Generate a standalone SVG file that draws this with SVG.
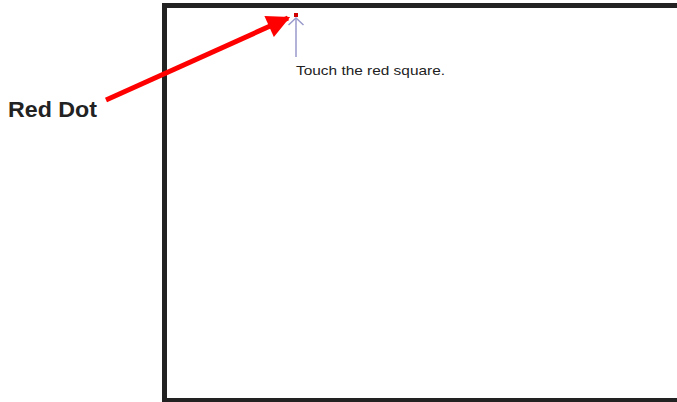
<svg xmlns="http://www.w3.org/2000/svg" width="677" height="402" viewBox="0 0 677 402">
<style>
.lbl{font-family:"Liberation Sans",Arial,sans-serif;fill:#222}
</style>
<defs>
<marker id="redhead" viewBox="0 0 10 10" refX="9" refY="5" markerWidth="5" markerHeight="4.6" orient="auto" markerUnits="strokeWidth">
<path d="M0,0 L10,5 L0,10 Z" fill="#ff0000"/>
</marker>
</defs>
<rect width="677" height="402" fill="#fff"/>
<g id="frame">
<rect x="164.5" y="5.5" width="520" height="395" fill="none" stroke="#222" stroke-width="5"/>
</g>
<g id="red-square">
<rect x="294" y="13" width="4" height="4" fill="#d00000"/>
<text class="lbl" x="296" y="75" font-size="13.5" textLength="149" lengthAdjust="spacingAndGlyphs">Touch the red square.</text>
</g>
<g id="red-dot-label">
<text class="lbl" x="8" y="117" font-size="22.5" font-weight="bold" textLength="89" lengthAdjust="spacingAndGlyphs">Red Dot</text>
</g>
<g id="connectors">
<line x1="106" y1="100" x2="288" y2="18" stroke="#ff0000" stroke-width="5" marker-end="url(#redhead)"/>
<line x1="296" y1="57" x2="296" y2="18" stroke="#9999cc" stroke-width="1.5"/>
<polyline points="288.5,25 296,18 303.5,25" fill="none" stroke="#9999cc" stroke-width="1.5"/>
</g>
</svg>
